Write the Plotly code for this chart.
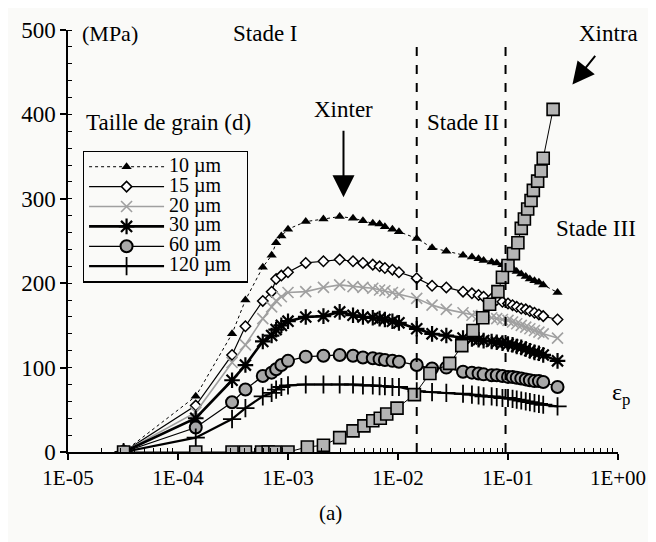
import plotly.graph_objects as go

# ---------------- data ----------------
EPS = [3.2e-5, 1.45e-4, 3.1e-4, 4.1e-4, 5.9e-4, 7.1e-4, 7.8e-4, 8.7e-4, 1.0e-3, 1.45e-3,
       2.1e-3, 2.95e-3, 3.9e-3, 4.8e-3, 5.9e-3, 6.8e-3, 7.6e-3, 8.9e-3, 1.02e-2, 1.48e-2,
       2.04e-2, 2.75e-2, 3.9e-2, 4.7e-2, 5.4e-2, 6.0e-2, 7.1e-2, 7.9e-2, 8.9e-2, 0.100,
       0.110, 0.120, 0.132, 0.145, 0.158, 0.174, 0.191, 0.209, 0.282]

S10 = [0, 66, 140, 180, 219, 233, 248, 256, 264, 273, 276, 279, 277, 274, 271, 270, 267, 264, 261, 253,
       242, 238, 233, 231, 229, 227, 225, 224, 222, 221, 218, 214, 211, 208, 205, 203, 201, 198, 189]
S15 = [0, 55, 115, 149, 179, 190, 205, 209, 213, 224, 226, 228, 226, 224, 222, 220, 218, 216, 213, 206,
       197, 195, 190, 188, 186, 184, 182, 180, 178, 176, 174, 172, 170, 169, 167, 165, 163, 161, 157]
S20 = [0, 47, 106, 127, 158, 172, 179, 184, 189, 190, 195, 198, 196, 195, 194, 192, 191, 189, 187, 182,
       174, 169, 165, 162, 161, 160, 159, 158, 157, 156, 154, 152, 150, 148, 146, 144, 142, 140, 135]
S30 = [0, 40, 85, 103, 131, 138, 145, 150, 155, 160, 161, 166, 162, 160, 159, 158, 157, 155, 153, 146,
       140, 138, 135, 134, 133, 132, 131, 130, 129, 128, 127, 125, 124, 122, 120, 118, 117, 115, 108]
S60 = [0, 29, 59, 74, 90, 94, 98, 103, 108, 113, 114, 115, 114, 112, 111, 110, 109, 108, 107, 103,
       99, 100, 95, 94, 93, 92, 91, 91, 90, 89, 89, 88, 87, 86, 85, 84, 84, 83, 77]
S120 = [0, 17, 39, 52, 66, 70, 74, 77, 79, 80, 80, 80, 80, 79, 79, 78, 78, 77, 77, 72,
        71, 70, 69, 68, 67, 66, 66, 65, 64, 64, 63, 62, 61, 60, 59, 58, 57, 56, 54]

XINTRA_EPS = [3.2e-5, 1.45e-4, 3.1e-4, 4.1e-4, 5.75e-4, 6.6e-4, 7.6e-4, 1.0e-3, 1.5e-3, 2.1e-3,
              2.95e-3, 3.9e-3, 4.9e-3, 5.9e-3, 6.9e-3, 7.9e-3, 9.8e-3, 1.41e-2, 1.95e-2, 2.95e-2,
              3.8e-2, 4.8e-2, 5.9e-2, 6.8e-2, 8.1e-2, 8.9e-2, 0.100, 0.112, 0.123, 0.132,
              0.141, 0.151, 0.162, 0.170, 0.186, 0.200, 0.209, 0.257]
XINTRA = [0, 0, 0, 0, 0, 0, 0, 0, 6, 8, 17, 25, 31, 37, 40, 45, 52, 68, 93, 105,
          126, 144, 159, 175, 190, 207, 221, 235, 248, 265, 276, 288, 298, 310, 321, 333, 348, 406]

LABELS = ["10 µm", "15 µm", "20 µm", "30 µm", "60 µm", "120 µm"]
STAGE_BOUNDS = [0.0148, 0.095]
X_TICKVALS = [1e-5, 1e-4, 1e-3, 1e-2, 1e-1, 1e0]
X_TICKTEXT = ["1E-05", "1E-04", "1E-03", "1E-02", "1E-01", "1E+00"]

FONT = "Liberation Serif"
BG = "#fafaf8"
PAD = "\u00a0" * 3

fig = go.Figure()

styles = [
    (S10, dict(color="black", width=1, dash="dot"),
     dict(symbol="triangle-up", size=9, color="black")),
    (S15, dict(color="black", width=1.2),
     dict(symbol="diamond", size=8, color="white", line=dict(color="black", width=1.5))),
    (S20, dict(color="#a0a0a0", width=1.6),
     dict(symbol="x-thin-open", size=11, color="#a0a0a0", line=dict(color="#a0a0a0", width=1.6))),
    (S30, dict(color="black", width=2.6),
     dict(symbol="asterisk-open", size=13, color="black", line=dict(color="black", width=2.2))),
    (S60, dict(color="black", width=1.2),
     dict(symbol="circle", size=12, color="#a8a8a8", line=dict(color="black", width=2))),
    (S120, dict(color="black", width=2.2),
     dict(symbol="cross-thin-open", size=13, color="black", line=dict(color="black", width=1.8))),
]

for (vals, ln, mk), name in zip(styles, LABELS):
    fig.add_trace(go.Scatter(x=EPS, y=vals, mode="lines+markers",
                             name='<span style="font-size:20px">' + name + "</span>" + PAD,
                             line=ln, marker=mk))

fig.add_trace(go.Scatter(x=XINTRA_EPS, y=XINTRA, mode="lines+markers", showlegend=False,
                         line=dict(color="black", width=1),
                         marker=dict(symbol="square", size=12, color="#b4b4b4",
                                     line=dict(color="black", width=1.6))))

for xb in STAGE_BOUNDS:
    fig.add_shape(type="line", xref="x", yref="y", x0=xb, x1=xb, y0=0, y1=483,
                  line=dict(color="black", width=2, dash="dash"))

minor_x = [m * 10 ** e for e in range(-5, 0) for m in range(2, 10)]

fig.update_xaxes(type="log", range=[-5, 0], tickvals=X_TICKVALS, ticktext=X_TICKTEXT,
                 showline=True, linecolor="black", linewidth=1.5, showgrid=False, zeroline=False,
                 ticks="outside", ticklen=6, tickwidth=1.5, tickcolor="black",
                 tickfont=dict(family=FONT, size=21, color="black"),
                 minor=dict(tickvals=minor_x, ticks="inside", ticklen=4, tickwidth=1, tickcolor="black"))
fig.update_yaxes(range=[0, 500], dtick=100, showline=True, linecolor="black", linewidth=1.5,
                 showgrid=False, zeroline=False, ticks="outside", ticklen=6, tickwidth=1.5,
                 tickcolor="black", tickfont=dict(family=FONT, size=23, color="black"),
                 ticklabeloverflow="allow",
                 minor=dict(dtick=20, ticks="inside", ticklen=4, tickwidth=1, tickcolor="black"))


def px_x(p):
    return (p - 68) / 555


def px_y(p):
    return (452 - p) / 434


texts = [
    ("(MPa)", 110, 22, 22),
    ("Stade I", 267, 22, 23),
    ("Stade II", 467, 113, 23),
    ("Stade III", 601, 222, 23),
    ("Taille de grain (d)", 169, 113, 23),
    ("Xinter", 346, 100, 23),
    ("Xintra", 613, 22, 23),
    ("ε<sub>p</sub>", 626, 392, 24),
]
for t, xp, yp, fs in texts:
    fig.add_annotation(text=t, xref="paper", yref="paper", x=px_x(xp), y=px_y(yp),
                       showarrow=False, xanchor="center", yanchor="middle",
                       font=dict(family=FONT, size=fs, color="black"))

fig.add_annotation(text="(a)", xref="paper", yref="paper", x=px_x(333), y=px_y(515),
                   showarrow=False, xanchor="center", yanchor="middle",
                   font=dict(family=FONT, size=21, color="black"))

# arrows
fig.add_annotation(text="", xref="paper", yref="paper", x=px_x(346), y=px_y(190),
                   ax=0, ay=-68, showarrow=True, arrowhead=2, arrowsize=2.2, arrowwidth=2,
                   arrowcolor="black")
fig.add_annotation(text="", xref="paper", yref="paper", x=px_x(577), y=px_y(74),
                   ax=24, ay=-30, showarrow=True, arrowhead=2, arrowsize=2.2, arrowwidth=2,
                   arrowcolor="black")

# the page body adds an 8px offset; size the figure so the plot area lands where the reference has it
fig.update_layout(
    width=648, height=534,
    margin=dict(l=60, r=33, t=10, b=90),
    paper_bgcolor=BG, plot_bgcolor=BG,
    showlegend=True,
    legend=dict(x=px_x(83), y=px_y(142), xanchor="left", yanchor="top",
                bgcolor=BG, bordercolor="black", borderwidth=1.2,
                font=dict(family=FONT, size=13, color="black"),
                itemwidth=75),
    font=dict(family=FONT, color="black"),
)

fig.write_html("out.html")
